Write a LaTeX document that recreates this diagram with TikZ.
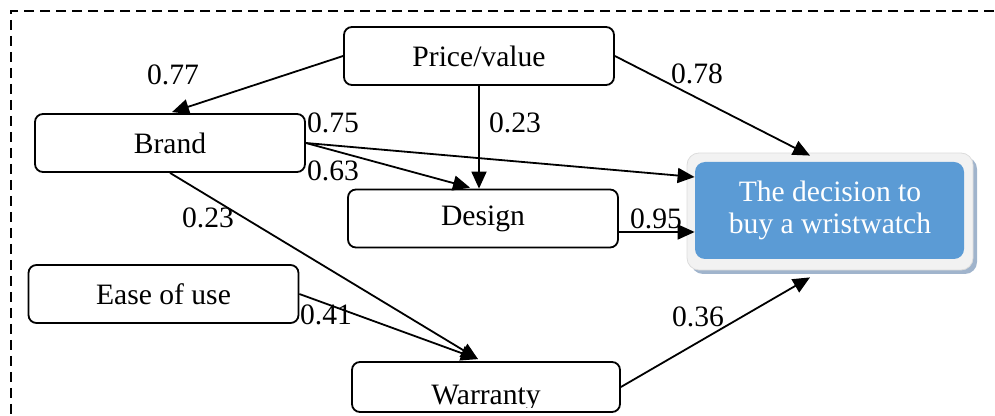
\documentclass[tikz,border=0pt]{standalone}
\usepackage{fontspec}
\setmainfont{Liberation Serif}
\usetikzlibrary{arrows.meta,calc}
\definecolor{decblue}{HTML}{5B9BD5}
\definecolor{framegray}{HTML}{F2F2F2}
\definecolor{frameedge}{HTML}{DCDCDC}
\definecolor{shadowblue}{HTML}{A0B4CC}
\begin{document}
\begin{tikzpicture}[x=0.5pt,y=-0.5pt,
  box/.style={draw, line width=0.9pt, rounded corners=4pt, minimum width=135pt,
    minimum height=29pt, inner sep=0pt, font=\fontsize{14.8}{15.6}\selectfont},
  lbl/.style={font=\fontsize{14.8}{15.6}\selectfont, inner sep=0pt},
  arr/.style={-{Triangle[length=8.5pt,width=7.5pt]}, line width=0.9pt}]
\useasboundingbox (0,0) rectangle (995,416);
% dashed frame
\draw[line width=1.4pt, dash pattern=on 5pt off 3pt] (1010,11) -- (11,11) -- (11,440);
% boxes
\node[box] (P) at (479,56) {Price/value};
\node[box] (B) at (170,143) {Brand};
\node[box] (D) at (483,218.5) {Design};
\node[box] (E) at (163.5,294) {Ease of use};
\node[box, minimum width=134pt, minimum height=25pt] (W) at (486,387) {};
\begin{scope}
  \clip (352,362) rectangle (620,407);
  \node[lbl, anchor=base] (Wt) at (486,404) {Warranty};
\end{scope}
% decision box
\fill[shadowblue, rounded corners=6pt] (691,157) rectangle (977,274);
\node[draw=frameedge, fill=framegray, rounded corners=6pt, minimum width=143pt,
  minimum height=58.5pt, inner sep=0pt] (dec) at (830,211.5) {};
\node[fill=decblue, rounded corners=5pt, minimum width=134.5pt, minimum height=48.5pt,
  inner sep=0pt] (decin) at (829.5,210.5) {};
\node[lbl, text=white, align=center] (dect) at (830,210.5) {The decision to\\buy a wristwatch};
% connector end points
\coordinate (dT) at ($(dec.north)+(-20,3)$);
\coordinate (dB) at ($(dec.south)+(-20,7)$);
\coordinate (dL1) at ($(decin.west)+(0,-33.5)$);
\coordinate (dL2) at ($(decin.west)+(0,21.5)$);
\coordinate (wT) at ($(W.north)+(-8,-2)$);
\coordinate (bT) at ($(B.north)+(2,-1)$);
\coordinate (dN) at ($(D.north)+(-13,-1)$);
% arrows
\draw[arr] (P.west) -- (bT);
\draw[arr] (P.south) -- (P.south |- D.north);
\draw[arr] (P.east) -- (dT);
\draw[arr] (B.east) -- (dL1);
\draw[arr] (B.east) -- (dN);
\draw[arr] (B.south) -- (wT);
\draw[arr] (D.east |- dL2) -- (dL2);
\draw[arr] (E.east) -- (wT);
\draw[arr] (W.east) -- (dB);
% labels
\node[lbl] (l1) at (173,75) {0.77};
\node[lbl] (l2) at (515,123) {0.23};
\node[lbl] (l3) at (697,74) {0.78};
\node[lbl] (l4) at (333,123) {0.75};
\node[lbl] (l5) at (333,171) {0.63};
\node[lbl] (l6) at (208,218) {0.23};
\node[lbl] (l7) at (656,219) {0.95};
\node[lbl] (l8) at (326,315) {0.41};
\node[lbl] (l9) at (698,317) {0.36};
\end{tikzpicture}
\end{document}
